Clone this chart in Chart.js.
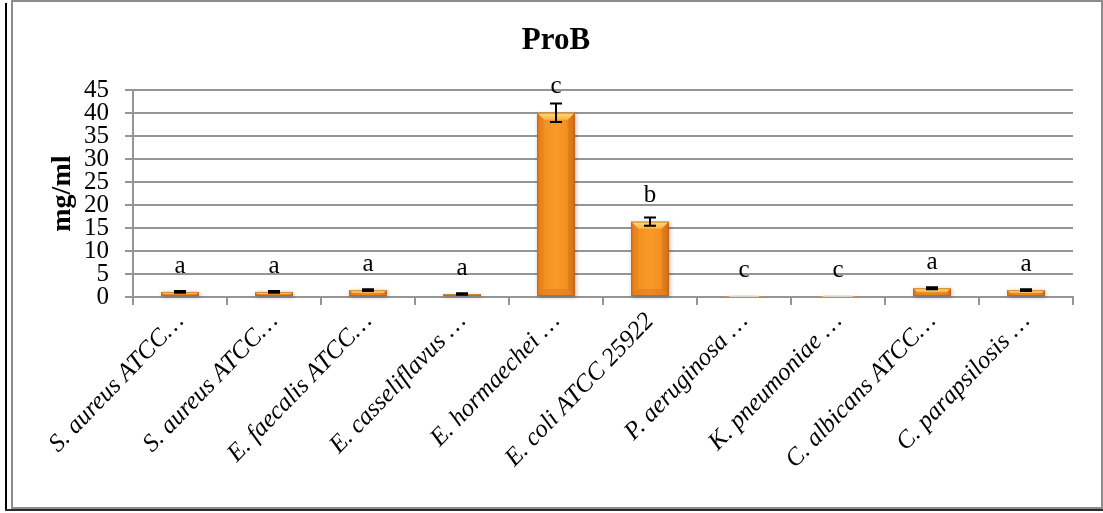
<!DOCTYPE html>
<html>
<head>
<meta charset="utf-8">
<title>ProB</title>
<script src="https://cdn.jsdelivr.net/npm/chart.js@4.4.1/dist/chart.umd.min.js"></script>
<style>
  html, body { margin: 0; padding: 0; background: #ffffff; }
  #wrap { position: relative; width: 1103px; height: 513px; }
  canvas { display: block; }
</style>
</head>
<body>
<div id="wrap"><canvas id="chart" width="1103" height="513"></canvas></div>
<script>
// Strains tested (labels are shortened with an ellipsis as on the axis)
const strains = [
  'S. aureus ATCC…',
  'S. aureus ATCC…',
  'E. faecalis ATCC…',
  'E. casseliflavus …',
  'E. hormaechei …',
  'E. coli ATCC 25922',
  'P. aeruginosa …',
  'K. pneumoniae …',
  'C. albicans ATCC…',
  'C. parapsilosis …'
];

// ProB concentration (mg/ml) and its standard deviation
const prob = [1.1, 1.1, 1.5, 0.65, 40.1, 16.4, 0.03, 0.03, 1.9, 1.5];
const probSd = [0.2, 0.2, 0.2, 0.15, 2.0, 0.9, 0, 0, 0.2, 0.2];

// Significance groups written above each bar
const groups = ['a', 'a', 'a', 'a', 'c', 'b', 'c', 'c', 'a', 'a'];

// Value axis ticks
const yTicks = [0, 5, 10, 15, 20, 25, 30, 35, 40, 45];

const SERIF = "'Times New Roman', 'Liberation Serif', 'DejaVu Serif', serif";
const GRID = '#959595';

// Outer frame of the figure
const framePlugin = {
  id: 'frame',
  afterLayout(chart) {
    // centre the title on the framed figure rather than the padded layout box
    if (chart.titleBlock) {
      chart.titleBlock.left = 12;
      chart.titleBlock.right = 1100;
      chart.titleBlock.width = 1088;
    }
  },
  beforeDraw(chart) {
    const ctx = chart.ctx;
    ctx.save();
    ctx.fillStyle = '#ffffff';
    ctx.fillRect(0, 0, chart.width, chart.height);
    ctx.fillStyle = '#000000';
    ctx.fillRect(5, 3, 2, 508);
    ctx.fillStyle = '#2a2a2a';
    ctx.fillRect(5, 509, 1098, 2);
    ctx.strokeStyle = '#8c8c8c';
    ctx.lineWidth = 2;
    ctx.strokeRect(12, 1, 1090, 507);
    ctx.restore();
  }
};

// Bevelled look for each bar, drawn over the bar element geometry
const bevelPlugin = {
  id: 'bevel',
  afterDatasetsDraw(chart) {
    const ctx = chart.ctx;
    const meta = chart.getDatasetMeta(0);
    ctx.save();
    meta.data.forEach((bar) => {
      const w = bar.width;
      const x0 = bar.x - w / 2, x1 = bar.x + w / 2;
      const y0 = Math.min(bar.y, bar.base), yb = Math.max(bar.y, bar.base);
      const h = yb - y0;
      if (h < 1) {
        ctx.fillStyle = '#dcdcdc';
        ctx.fillRect(x0 + 4, yb - 1.5, w - 8, 1.5);
        return;
      }
      const d = Math.min(7, h / 2, w / 4);
      // soft shadow + body
      ctx.save();
      ctx.shadowColor = 'rgba(0,0,0,0.3)';
      ctx.shadowBlur = 4;
      ctx.shadowOffsetX = 1;
      ctx.shadowOffsetY = 1;
      const g = ctx.createLinearGradient(x0, 0, x1, 0);
      g.addColorStop(0, '#e27d1d');
      g.addColorStop(0.15, '#f5911f');
      g.addColorStop(0.5, '#f99a28');
      g.addColorStop(0.85, '#f38e1f');
      g.addColorStop(1, '#dc761b');
      ctx.fillStyle = g;
      ctx.fillRect(x0, y0, w, h);
      ctx.restore();
      // top bevel
      const gt = ctx.createLinearGradient(0, y0, 0, y0 + d);
      gt.addColorStop(0, '#fddc80');
      gt.addColorStop(1, '#f9b446');
      ctx.fillStyle = gt;
      ctx.beginPath();
      ctx.moveTo(x0, y0); ctx.lineTo(x1, y0);
      ctx.lineTo(x1 - d, y0 + d); ctx.lineTo(x0 + d, y0 + d);
      ctx.closePath(); ctx.fill();
      // left bevel
      ctx.fillStyle = 'rgba(220,118,26,0.35)';
      ctx.beginPath();
      ctx.moveTo(x0, y0); ctx.lineTo(x0 + d, y0 + d);
      ctx.lineTo(x0 + d, yb - d); ctx.lineTo(x0, yb);
      ctx.closePath(); ctx.fill();
      // right bevel
      ctx.fillStyle = 'rgba(200,100,20,0.4)';
      ctx.beginPath();
      ctx.moveTo(x1, y0); ctx.lineTo(x1 - d, y0 + d);
      ctx.lineTo(x1 - d, yb - d); ctx.lineTo(x1, yb);
      ctx.closePath(); ctx.fill();
      // bottom bevel
      ctx.fillStyle = 'rgba(205,105,22,0.35)';
      ctx.beginPath();
      ctx.moveTo(x0, yb); ctx.lineTo(x0 + d, yb - d);
      ctx.lineTo(x1 - d, yb - d); ctx.lineTo(x1, yb);
      ctx.closePath(); ctx.fill();
      // outline
      ctx.strokeStyle = 'rgba(180,90,15,0.6)';
      ctx.lineWidth = 1;
      ctx.strokeRect(x0 + 0.5, y0 + 0.5, w - 1, h - 1);
    });
    ctx.restore();
  }
};

// Error bars and group letters
const annotatePlugin = {
  id: 'annotate',
  afterDatasetsDraw(chart) {
    const ctx = chart.ctx;
    const y = chart.scales.y;
    const meta = chart.getDatasetMeta(0);
    ctx.save();
    meta.data.forEach((bar, i) => {
      const sd = probSd[i];
      if (sd > 0) {
        const top = y.getPixelForValue(prob[i] + sd);
        const bot = y.getPixelForValue(prob[i] - sd);
        ctx.strokeStyle = '#000000';
        ctx.lineWidth = 2;
        ctx.beginPath();
        ctx.moveTo(bar.x, top); ctx.lineTo(bar.x, bot);
        ctx.moveTo(bar.x - 6, top); ctx.lineTo(bar.x + 6, top);
        ctx.moveTo(bar.x - 6, bot); ctx.lineTo(bar.x + 6, bot);
        ctx.stroke();
      }
      ctx.fillStyle = '#000000';
      ctx.font = '25px ' + SERIF;
      ctx.textAlign = 'center';
      ctx.textBaseline = 'middle';
      ctx.fillText(groups[i], bar.x, y.getPixelForValue(prob[i]) - 26);
    });
    ctx.restore();
  }
};

new Chart(document.getElementById('chart'), {
  type: 'bar',
  data: {
    labels: strains,
    datasets: [{
      label: 'ProB',
      data: prob,
      backgroundColor: '#f7931e',
      borderWidth: 0,
      categoryPercentage: 0.4,
      barPercentage: 1.0
    }]
  },
  options: {
    responsive: false,
    animation: false,
    devicePixelRatio: 1,
    layout: { padding: { left: 0, right: 30, top: 0, bottom: 0 } },
    plugins: {
      legend: { display: false },
      tooltip: { enabled: false },
      title: {
        display: true,
        text: 'ProB',
        color: '#000000',
        font: { family: SERIF, size: 31, weight: 'bold', lineHeight: 1.2 },
        padding: { top: 22, bottom: 31 }
      }
    },
    scales: {
      x: {
        offset: true,
        grid: {
          display: true,
          drawOnChartArea: false,
          drawTicks: true,
          tickLength: 8,
          offset: true,
          color: GRID,
          lineWidth: 2
        },
        border: { display: true, color: GRID, width: 2 },
        ticks: {
          autoSkip: false,
          minRotation: 46,
          maxRotation: 46,
          padding: 2,
          color: '#000000',
          font: { family: SERIF, size: 25, style: 'italic' }
        },
        afterFit(scale) { scale.height = 216; }
      },
      y: {
        min: 0,
        max: 45,
        afterBuildTicks(scale) { scale.ticks = yTicks.map(v => ({ value: v })); },
        grid: { color: GRID, lineWidth: 2, drawTicks: true, tickLength: 8 },
        border: { display: true, color: GRID, width: 2 },
        ticks: {
          autoSkip: false,
          padding: 16,
          color: '#000000',
          font: { family: SERIF, size: 25, lineHeight: 1 }
        },
        title: {
          display: true,
          text: 'mg/ml',
          color: '#000000',
          font: { family: SERIF, size: 28, weight: 'bold' },
          padding: { top: 46, bottom: 0 }
        },
        afterFit(scale) { scale.width = 133; }
      }
    }
  },
  plugins: [framePlugin, bevelPlugin, annotatePlugin]
});
</script>
</body>
</html>
